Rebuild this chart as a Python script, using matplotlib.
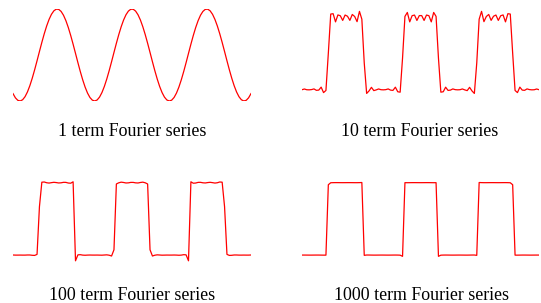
import numpy as np
import matplotlib
matplotlib.use("Agg")
import matplotlib.pyplot as plt

# number of Fourier terms shown in each panel
terms = [1, 10, 100, 1000]
titles = ["1 term Fourier series", "10 term Fourier series",
          "100 term Fourier series", "1000 term Fourier series"]

# pulse train: level 0/1, period 2*pi, high for |t| < half_width
half_width = 1.5

# sample grid, like gnuplot's default xrange and samples
t_start, t_end = -10.0, 10.0
n_samples = 100


def partial_sum(t, n_terms):
    y = np.full_like(t, half_width / np.pi)
    for n in range(1, n_terms + 1):
        y += 2 * np.sin(n * half_width) / (n * np.pi) * np.cos(n * t)
    return y


t = np.linspace(t_start, t_end, n_samples)

# same y range on every panel: the extremes of the 1 term curve
a0 = half_width / np.pi
a1 = 2 * np.sin(half_width) / np.pi
y_lo, y_hi = a0 - a1, a0 + a1

fig = plt.figure(figsize=(5.41, 3.03), dpi=100)

# axes boxes in figure fraction [left, bottom, width, height]
boxes = [
    [13 / 541, 1 - 101 / 303, 238 / 541, 92 / 303],
    [302 / 541, 1 - 101 / 303, 237 / 541, 92 / 303],
    [13 / 541, 1 - 266.5 / 303, 238 / 541, 92 / 303],
    [302 / 541, 1 - 266.5 / 303, 237 / 541, 92 / 303],
]
title_pos = [(132.5, 136), (420, 136), (132.5, 300), (421, 300)]

for n_terms, title, box, (tx, ty) in zip(terms, titles, boxes, title_pos):
    ax = fig.add_axes(box)
    ax.plot(t, partial_sum(t, n_terms), color="red", linewidth=0.9)
    ax.set_xlim(t_start, t_end)
    ax.set_ylim(y_lo, y_hi)
    ax.axis("off")
    fig.text(tx / 541, 1 - ty / 303, title, ha="center", va="baseline",
             family="Liberation Serif", fontsize=12.9)

plt.savefig("out.png", dpi=100)
plt.close()
